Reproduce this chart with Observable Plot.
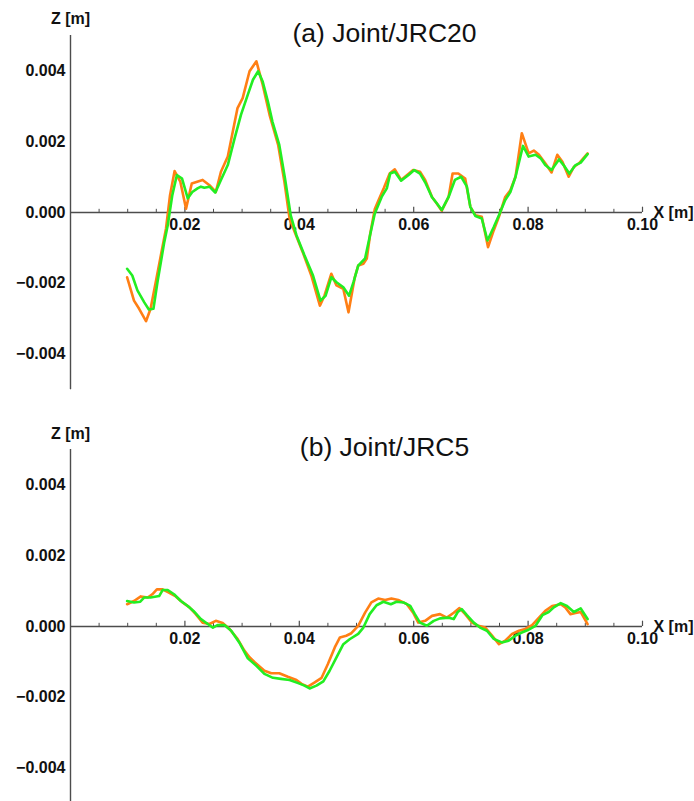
<!DOCTYPE html>
<html>
<head>
<meta charset="utf-8">
<script src="https://cdn.jsdelivr.net/npm/d3@7"></script>
<script src="https://cdn.jsdelivr.net/npm/@observablehq/plot@0.6"></script>
<style>
  html, body { margin: 0; padding: 0; background: #fff; overflow: hidden; }
  #wrap svg { display: block; }
</style>
</head>
<body>
<div id="wrap"></div>
<script>
// ---------- data ----------
const jrc20OrangeX = [.0099,.0111,.0120,.0132,.0140,.0149,.0158,.0167,.0174,.0182,.0192,.0202,.0212,.0231,.0243,.0254,.0263,.0275,.0292,.0301,.0313,.0325,.0336,.0348,.0363,.0374,.0383,.0392,.0406,.0421,.0436,.0444,.0456,.0465,.0477,.0486,.0497,.0503,.0512,.0518,.0524,.0532,.0540,.0548,.0558,.0567,.0578,.0599,.0611,.0620,.0632,.0640,.0649,.0661,.0668,.0678,.0690,.0699,.0708,.0719,.0730,.0740,.0749,.0760,.0769,.0778,.0789,.0801,.0810,.0819,.0830,.0841,.0851,.0860,.0871,.0880,.0889,.0904];
const jrc20OrangeZ = [-.00183,-.00249,-.00272,-.00307,-.00272,-.00197,-.00121,-.00045,.00049,.00117,.00087,.00011,.00082,.00092,.00077,.00058,.00115,.00158,.00295,.00323,.00399,.00427,.00361,.00276,.00191,.00087,-.00017,-.00055,-.00112,-.00178,-.00263,-.00235,-.00173,-.00206,-.00216,-.00282,-.00183,-.0015,-.00145,-.0013,-.0006,.0001,.0004,.0007,.0011,.00122,.00092,.0012,.00115,.00092,.00044,.00026,.00005,.00044,.0011,.0011,.00096,.00016,-.00008,-.00012,-.00098,-.0005,-.00012,.00044,.00063,.00101,.00224,.00167,.00175,.00163,.00139,.00113,.00163,.00143,.00101,.00129,.00139,.00167];

const jrc20GreenX = [.0099,.0108,.0117,.0129,.0137,.0145,.0152,.0164,.0170,.0178,.0186,.0195,.0205,.0213,.0222,.0228,.0234,.0243,.0253,.0263,.0275,.0287,.0298,.0310,.0319,.0328,.0336,.0345,.0353,.0365,.0375,.0385,.0395,.0409,.0424,.0437,.0446,.0456,.0465,.0477,.0487,.0495,.0503,.0515,.0523,.0532,.0544,.0553,.0559,.0567,.0578,.0591,.0601,.0611,.0621,.0632,.0640,.0649,.0661,.0672,.0683,.0693,.0699,.0708,.0719,.0729,.0740,.0749,.0760,.0769,.0778,.0791,.0801,.0813,.0822,.0830,.0841,.0854,.0862,.0872,.0883,.0892,.0904];
const jrc20GreenZ = [-.00159,-.00178,-.0022,-.00254,-.00274,-.00272,-.00197,-.00083,-.00036,.00049,.00106,.00096,.0004,.00058,.00068,.00073,.0007,.00073,.00056,.00092,.00134,.0021,.00276,.00333,.00375,.00399,.0037,.00314,.00257,.00191,.00096,-.00008,-.00064,-.00121,-.00178,-.00249,-.00235,-.00183,-.00197,-.00211,-.00235,-.00195,-.0015,-.0013,-.00069,-.00003,.00044,.00068,.0011,.00115,.0009,.00106,.0012,.0011,.00082,.00043,.00027,.00007,.00044,.00092,.00101,.00073,.00016,-.0001,-.00017,-.00079,-.00041,-.00008,.00035,.00058,.00101,.00188,.00158,.00163,.00153,.00134,.0012,.0015,.00134,.0011,.00134,.00141,.00165];

const jrc5OrangeX = [.0099,.0111,.0123,.0135,.0143,.0151,.0161,.0172,.0184,.0196,.0208,.0219,.0231,.0243,.0254,.0266,.0278,.0292,.0304,.0313,.0322,.0339,.0351,.0365,.0380,.0395,.0404,.0415,.0427,.0439,.0450,.0462,.0471,.0482,.0491,.0503,.0515,.0526,.0538,.0550,.0561,.0573,.0588,.0599,.0608,.0620,.0632,.0646,.0658,.0670,.0680,.0690,.0702,.0713,.0725,.0737,.0749,.0760,.0772,.0784,.0795,.0807,.0819,.0830,.0842,.0857,.0865,.0874,.0883,.0892,.0904];
const jrc5OrangeZ = [.00063,.00072,.00085,.00082,.00091,.00105,.00105,.00096,.00085,.00068,.00054,.00035,.00011,.00007,.00016,.0001,-.00007,-.00035,-.00068,-.00087,-.00101,-.00125,-.00132,-.00132,-.00142,-.00151,-.00162,-.0017,-.00158,-.00145,-.00106,-.00059,-.00031,-.00026,-.00019,.00002,.00039,.00068,.00079,.00075,.00079,.00075,.00063,.00039,.00011,.00016,.0003,.00035,.00025,.00039,.00052,.00035,.00011,.00002,-.00003,-.00026,-.0005,-.0004,-.00021,-.00012,-.00007,.00004,.00025,.00044,.00058,.00063,.00054,.00035,.00038,.00041,.00007];

const jrc5GreenX = [.0099,.0111,.0122,.0129,.0140,.0155,.0161,.0170,.0181,.0193,.0205,.0215,.0228,.0240,.0249,.0257,.0269,.0281,.0295,.0310,.0325,.0339,.0354,.0368,.0383,.0398,.0409,.0418,.0430,.0442,.0453,.0465,.0477,.0488,.0503,.0512,.0523,.0535,.0547,.0560,.0570,.0582,.0594,.0602,.0611,.0623,.0635,.0646,.0661,.0670,.0677,.0684,.0693,.0705,.0716,.0728,.0740,.0754,.0766,.0778,.0789,.0801,.0813,.0825,.0836,.0845,.0857,.0868,.0880,.0892,.0904];
const jrc5GreenZ = [.00072,.00068,.0007,.00082,.00082,.00086,.00103,.00103,.00091,.00072,.00058,.00044,.00021,.00007,-.00003,.00004,.00004,-.00012,-.00045,-.0009,-.00111,-.00134,-.00145,-.00148,-.00151,-.0016,-.00167,-.00175,-.00167,-.00155,-.00125,-.00087,-.0005,-.00036,-.00021,-.00003,.00035,.0006,.0007,.00063,.0007,.00068,.00058,.00035,.00011,.00002,.00016,.00023,.00025,.00021,.00041,.00049,.00032,.00011,-.00003,-.00012,-.00035,-.00045,-.0004,-.00026,-.00017,-.00009,.00002,.00032,.00041,.00054,.00066,.00058,.00041,.00051,.00021];

const panelTitles = ["(a) Joint/JRC20", "(b) Joint/JRC5"];
const xMajorTicks = [0.02, 0.04, 0.06, 0.08, 0.10];
const xMinorTicks = [0.005, 0.01, 0.015, 0.025, 0.03, 0.035, 0.045, 0.05, 0.055, 0.065, 0.07, 0.075, 0.085, 0.09, 0.095];
const yMajorTicks = [-0.004, -0.002, 0, 0.002, 0.004];
const yMinorTicks = [-0.0045,-0.0035,-0.003,-0.0025,-0.0015,-0.001,-0.0005,0.0005,0.001,0.0015,0.0025,0.003,0.0035,0.0045,0.005,-0.005];
const xLabel = "X [m]";
const yLabel = "Z [m]";

// ---------- drawing ----------
const ORANGE = "#ff7f14";
const GREEN = "#22ee22";
const AXIS = "#4d4d4d";
const FONT = "'Liberation Sans', Arial, Helvetica, sans-serif";

const zip = (xs, zs) => xs.map((x, i) => ({x, z: zs[i]}));
const fmtY = d => (d < 0 ? "\u2212" : "") + Math.abs(d).toFixed(3);
const fmtX = d => d.toFixed(2);

function panel(title, orange, green, opts) {
  return Plot.plot({
    width: 694,
    height: opts.height,
    marginTop: opts.marginTop,
    marginBottom: opts.marginBottom,
    marginLeft: 70,
    marginRight: 52,
    x: {domain: [0, 0.1], axis: null},
    y: {domain: [-0.005, 0.005], axis: null},
    style: {fontFamily: FONT, overflow: "visible", background: "#fff"},
    marks: [
      // axes
      Plot.ruleY([0], {x1: 0, x2: 0.1, stroke: AXIS, strokeWidth: 1.4}),
      Plot.ruleX([0], {stroke: AXIS, strokeWidth: 1.4}),
      Plot.ruleX(xMinorTicks, {x: d => d, y1: 0, y2: 0.00009, stroke: AXIS, strokeWidth: 1}),
      Plot.ruleX(xMajorTicks, {x: d => d, y1: 0, y2: 0.00015, stroke: AXIS, strokeWidth: 1.2}),
      Plot.ruleY(yMinorTicks, {y: d => d, x1: 0, x2: 0.00005, stroke: AXIS, strokeWidth: 1}),
      Plot.ruleY(yMajorTicks, {y: d => d, x1: 0, x2: 0.00009, stroke: AXIS, strokeWidth: 1.2}),
      Plot.text(yMajorTicks, {x: 0, y: d => d, text: fmtY, textAnchor: "end", dx: -5, fontWeight: "bold", fontSize: 16, fill: "#111"}),
      Plot.text(xMajorTicks, {x: d => d, y: 0, text: fmtX, dy: 12, lineAnchor: "middle", fontWeight: "bold", fontSize: 16, fill: "#111"}),
      Plot.text([xLabel], {x: 0.1, y: 0, dx: 11, textAnchor: "start", lineAnchor: "middle", fontWeight: "bold", fontSize: 16, fill: "#111"}),
      Plot.text([yLabel], {frameAnchor: "top-left", dy: opts.yLabelDy, textAnchor: "middle", lineAnchor: "middle", fontWeight: "bold", fontSize: 16, fill: "#111"}),
      Plot.text([title], {frameAnchor: "top", dx: 28, dy: -2, lineAnchor: "middle", fontSize: 26.5, fill: "#111"}),
      // profiles
      Plot.line(orange, {x: "x", y: "z", stroke: ORANGE, strokeWidth: 2.6, strokeLinejoin: "round"}),
      Plot.line(green, {x: "x", y: "z", stroke: GREEN, strokeWidth: 2.6, strokeLinejoin: "round"})
    ]
  });
}

const wrap = document.getElementById("wrap");
wrap.append(panel(panelTitles[0], zip(jrc20OrangeX, jrc20OrangeZ), zip(jrc20GreenX, jrc20GreenZ),
  {height: 400, marginTop: 35, marginBottom: 11, yLabelDy: -17}));
wrap.append(panel(panelTitles[1], zip(jrc5OrangeX, jrc5OrangeZ), zip(jrc5GreenX, jrc5GreenZ),
  {height: 410, marginTop: 49, marginBottom: 7, yLabelDy: -16}));
</script>
</body>
</html>
